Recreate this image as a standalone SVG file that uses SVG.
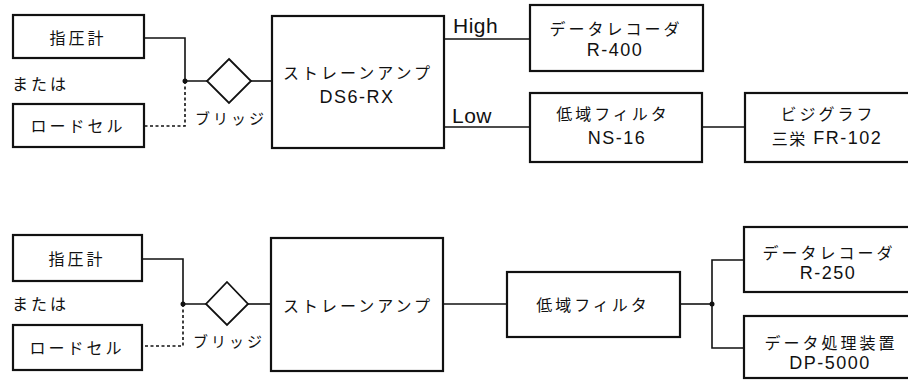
<svg xmlns="http://www.w3.org/2000/svg" width="908" height="382" viewBox="0 0 908 382">
<style>
.box{fill:#fff;stroke:#111;stroke-width:2.2}
.ln{fill:none;stroke:#111;stroke-width:1.6}
.dash{fill:none;stroke:#111;stroke-width:1.6;stroke-dasharray:3 2.5}
.jp{font-family:"Noto Sans CJK JP","Noto Sans",sans-serif;font-size:16px;fill:#111;text-anchor:middle;dominant-baseline:central;letter-spacing:3px}
.lt{font-family:"Liberation Sans",Arial,sans-serif;font-size:18px;fill:#111;text-anchor:middle;dominant-baseline:central;letter-spacing:1.5px}
.lbl{font-family:"Liberation Sans",Arial,sans-serif;font-size:21px;fill:#111;letter-spacing:0.5px}
</style>
<rect width="908" height="382" fill="#fff"/>
<g id="connectors">
<polyline class="ln" points="144,38 185,38 185,81 207,81"/>
<polyline class="dash" points="185,81 185,126 144,126"/>
<circle cx="185" cy="81" r="2.5" fill="#111"/>
<line class="ln" x1="251" y1="81" x2="273" y2="81"/>
<line class="ln" x1="444" y1="39" x2="530" y2="39"/>
<line class="ln" x1="444" y1="127" x2="530" y2="127"/>
<line class="ln" x1="702" y1="127" x2="745" y2="127"/>
<polyline class="ln" points="142,259 183,259 183,304 206,304"/>
<polyline class="dash" points="183,304 183,346 142,346"/>
<circle cx="183" cy="304" r="2.5" fill="#111"/>
<line class="ln" x1="248" y1="304" x2="271" y2="304"/>
<line class="ln" x1="443" y1="304" x2="507" y2="304"/>
<line class="ln" x1="680" y1="304" x2="712" y2="304"/>
<polyline class="ln" points="744,260 712,260 712,348 744,348"/>
<circle cx="712" cy="304" r="2.5" fill="#111"/>
</g>
<text class="lbl" x="453" y="33">High</text>
<text class="lbl" x="452" y="123">Low</text>

<g id="gauge1"><rect class="box" x="13" y="15" width="131" height="43"/><text class="jp" x="78" y="37">指圧計</text></g>
<text class="jp" x="12" y="83" style="text-anchor:start">または</text>
<g id="cell1"><rect class="box" x="13" y="104" width="131" height="43"/><text class="jp" x="78" y="125">ロードセル</text></g>
<g id="bridge1"><polygon class="box" points="229,59 251,81 229,103 207,81" style="stroke-width:1.8"/><text class="jp" x="231" y="117" style="font-size:15px">ブリッジ</text></g>
<g id="amp1"><rect class="box" x="272" y="16" width="172" height="132"/><text class="jp" x="358" y="72">ストレーンアンプ</text><text class="lt" x="357" y="97">DS6-RX</text></g>
<g id="rec1"><rect class="box" x="530" y="5" width="173" height="66"/><text class="jp" x="616" y="28">データレコーダ</text><text class="lt" x="615" y="50">R-400</text></g>
<g id="lpf1"><rect class="box" x="530" y="93" width="172" height="69"/><text class="jp" x="613" y="113">低域フィルタ</text><text class="lt" x="617" y="138">NS-16</text></g>
<g id="visi"><rect class="box" x="745" y="93" width="170" height="69"/><text class="jp" x="828" y="113">ビジグラフ</text><text class="lt" x="827" y="138"><tspan style="font-family:'Noto Sans CJK JP',sans-serif;font-size:16px">三栄</tspan> FR-102</text></g>

<g id="gauge2"><rect class="box" x="13" y="235" width="129" height="46"/><text class="jp" x="77" y="258">指圧計</text></g>
<text class="jp" x="12" y="303" style="text-anchor:start">または</text>
<g id="cell2"><rect class="box" x="13" y="325" width="129" height="45"/><text class="jp" x="77" y="347">ロードセル</text></g>
<g id="bridge2"><polygon class="box" points="227,282 248,304 227,325 206,304" style="stroke-width:1.8"/><text class="jp" x="229" y="340" style="font-size:15px">ブリッジ</text></g>
<g id="amp2"><rect class="box" x="271" y="238" width="172" height="133"/><text class="jp" x="358" y="305">ストレーンアンプ</text></g>
<g id="lpf2"><rect class="box" x="507" y="272" width="173" height="65"/><text class="jp" x="593" y="304">低域フィルタ</text></g>
<g id="rec2"><rect class="box" x="744" y="227" width="170" height="65"/><text class="jp" x="829" y="252">データレコーダ</text><text class="lt" x="828" y="273">R-250</text></g>
<g id="dp"><rect class="box" x="744" y="316" width="170" height="62"/><text class="jp" x="831" y="342">データ処理装置</text><text class="lt" x="830" y="363">DP-5000</text></g>
</svg>
